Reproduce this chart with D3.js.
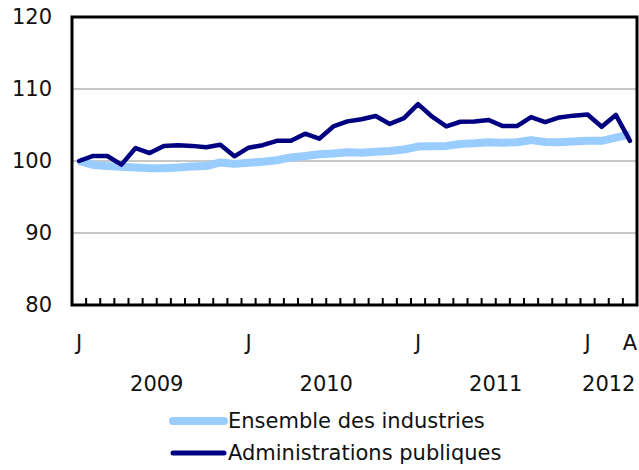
<!DOCTYPE html>
<html>
<head>
<meta charset="utf-8">
<script src="https://cdn.jsdelivr.net/npm/d3@7"></script>
<style>
  html, body { margin: 0; padding: 0; background: #fff; }
  svg { display: block; }
  text { font-family: "DejaVu Sans", Verdana, sans-serif; fill: #111; }
</style>
</head>
<body>
<svg id="chart" width="639" height="470"></svg>
<script>
// ---- Data ----
const months = [
  "2009-01","2009-02","2009-03","2009-04","2009-05","2009-06","2009-07","2009-08","2009-09","2009-10","2009-11","2009-12",
  "2010-01","2010-02","2010-03","2010-04","2010-05","2010-06","2010-07","2010-08","2010-09","2010-10","2010-11","2010-12",
  "2011-01","2011-02","2011-03","2011-04","2011-05","2011-06","2011-07","2011-08","2011-09","2011-10","2011-11","2011-12",
  "2012-01","2012-02","2012-03","2012-04"
];
const ensembleIndustries = [
  100.0, 99.45, 99.3, 99.2, 99.1, 99.0, 99.0, 99.1, 99.25, 99.3, 99.8, 99.6,
  99.75, 99.9, 100.1, 100.5, 100.7, 100.95, 101.05, 101.2, 101.15, 101.3, 101.4, 101.6,
  102.0, 102.05, 102.1, 102.35, 102.45, 102.6, 102.55, 102.6, 102.9, 102.65, 102.6, 102.7,
  102.8, 102.8, 103.25, 103.7
];
const administrationsPubliques = [
  100.0, 100.7, 100.7, 99.5, 101.8, 101.1, 102.1, 102.2, 102.1, 101.9, 102.25, 100.65,
  101.85, 102.2, 102.8, 102.8, 103.8, 103.1, 104.8, 105.5, 105.8, 106.25, 105.15, 105.95,
  107.9, 106.15, 104.8, 105.45, 105.5, 105.7, 104.85, 104.85, 106.1, 105.4, 106.05, 106.3,
  106.45, 104.75, 106.4, 102.8
];
const yTicks = [80, 90, 100, 110, 120];
const monthLabels = [
  {month: "2009-01", label: "J"}, {month: "2010-01", label: "J"},
  {month: "2011-01", label: "J"}, {month: "2012-01", label: "J"}, {month: "2012-04", label: "A"}
];
const yearLabels = [
  {year: "2009", from: "2009-01", to: "2009-12"},
  {year: "2010", from: "2010-01", to: "2010-12"},
  {year: "2011", from: "2011-01", to: "2011-12"},
  {year: "2012", from: "2012-01", to: "2012-04"}
];
const seriesNames = ["Ensemble des industries", "Administrations publiques"];
const seriesColors = ["#99CCFF", "#000080"];

// ---- Layout ----
const svg = d3.select("#chart");
const plot = {left: 72, right: 637, top: 17, bottom: 305};
const fontSize = "21px";

const x = d3.scaleBand().domain(months).range([plot.left, plot.right]).padding(0);
const y = d3.scaleLinear().domain([80, 120]).range([plot.bottom, plot.top]);
const cx = m => x(m) + x.bandwidth() / 2;

// gridlines
svg.append("g").selectAll("line")
  .data(yTicks.filter(t => t > 80 && t < 120))
  .join("line")
  .attr("x1", plot.left).attr("x2", plot.right)
  .attr("y1", d => y(d)).attr("y2", d => y(d))
  .attr("stroke", "#C8C8C8").attr("stroke-width", 2);

// y labels
svg.append("g").selectAll("text")
  .data(yTicks)
  .join("text")
  .attr("x", 52).attr("y", d => y(d))
  .attr("text-anchor", "end")
  .attr("dominant-baseline", "central")
  .style("font-size", fontSize)
  .text(d => d);

// lines
const lineGen = vals => d3.line().x((d, i) => cx(months[i])).y(d => y(d))(vals);
svg.append("path")
  .attr("d", lineGen(ensembleIndustries))
  .attr("fill", "none").attr("stroke", seriesColors[0])
  .attr("stroke-width", 8).attr("stroke-linejoin", "round");
svg.append("path")
  .attr("d", lineGen(administrationsPubliques))
  .attr("fill", "none").attr("stroke", seriesColors[1])
  .attr("stroke-width", 4.5).attr("stroke-linejoin", "round").attr("stroke-linecap", "round");

// frame
svg.append("rect")
  .attr("x", plot.left).attr("y", plot.top)
  .attr("width", plot.right - plot.left).attr("height", plot.bottom - plot.top)
  .attr("fill", "none").attr("stroke", "#000").attr("stroke-width", 3);

// ticks at band boundaries
svg.append("g").selectAll("line")
  .data(months.slice(1))
  .join("line")
  .attr("x1", d => x(d)).attr("x2", d => x(d))
  .attr("y1", plot.bottom).attr("y2", plot.bottom - 7)
  .attr("stroke", "#000").attr("stroke-width", 2);

// month labels
svg.append("g").selectAll("text")
  .data(monthLabels)
  .join("text")
  .attr("x", d => cx(d.month)).attr("y", 343)
  .attr("text-anchor", "middle").attr("dominant-baseline", "central")
  .style("font-size", fontSize)
  .text(d => d.label);

// year labels
svg.append("g").selectAll("text")
  .data(yearLabels)
  .join("text")
  .attr("x", d => (x(d.from) + x(d.to) + x.bandwidth()) / 2).attr("y", 384)
  .attr("text-anchor", "middle").attr("dominant-baseline", "central")
  .style("font-size", fontSize)
  .text(d => d.year);

// legend
const legend = svg.append("g");
const legY = [421, 453];
seriesNames.forEach((name, i) => {
  legend.append("line")
    .attr("x1", 173).attr("x2", 224)
    .attr("y1", legY[i]).attr("y2", legY[i])
    .attr("stroke", seriesColors[i]).attr("stroke-width", i === 0 ? 8 : 5)
    .attr("stroke-linecap", "round");
  legend.append("text")
    .attr("x", 228).attr("y", legY[i])
    .attr("dominant-baseline", "central")
    .style("font-size", fontSize)
    .text(name);
});
</script>
</body>
</html>
